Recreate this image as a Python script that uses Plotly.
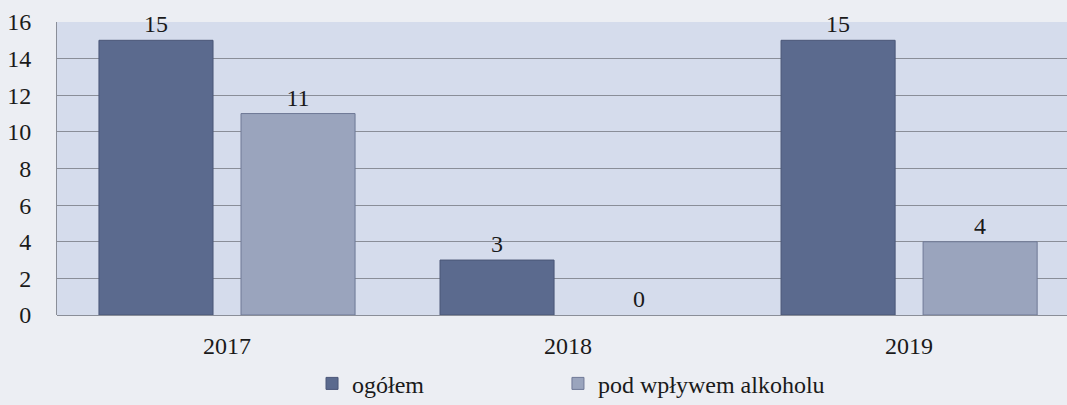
import plotly.graph_objects as go

years = ["2017", "2018", "2019"]
ogolem = [15, 3, 15]
alkohol = [11, 0, 4]
series_names = ["ogółem", "pod wpływem alkoholu"]
y_ticks = [0, 2, 4, 6, 8, 10, 12, 14, 16]

FONT = "Liberation Serif"
dark = "#5b6a8e"
light = "#9aa4bd"
TXT = "#1a1a1a"

fig = go.Figure()
fig.add_trace(go.Bar(
    x=years, y=ogolem, name=series_names[0], legend="legend",
    marker=dict(color=dark, line=dict(color="#4a5677", width=[1 if v else 0 for v in ogolem])),
    text=[str(v) for v in ogolem], textposition="outside",
    textfont=dict(family=FONT, size=24, color=TXT), cliponaxis=False,
))
fig.add_trace(go.Bar(
    x=years, y=alkohol, name=series_names[1], legend="legend2",
    marker=dict(color=light, line=dict(color="#6e7896", width=[1 if v else 0 for v in alkohol])),
    text=[str(v) for v in alkohol], textposition="outside",
    textfont=dict(family=FONT, size=24, color=TXT), cliponaxis=False,
))

leg_common = dict(orientation="h", xanchor="left", y=-0.158, yanchor="top",
                  font=dict(family=FONT, size=24, color=TXT),
                  bgcolor="rgba(0,0,0,0)", itemwidth=30)

fig.update_layout(
    width=1067, height=405,
    margin=dict(l=57, r=0, t=22, b=90, autoexpand=False),
    paper_bgcolor="#eceef3",
    plot_bgcolor="#d5dcec",
    barmode="group", bargap=0.167, bargroupgap=0.197,
    font=dict(family=FONT, size=24, color=TXT),
    showlegend=True,
    legend=dict(x=0.2525, **leg_common),
    legend2=dict(x=0.496, **leg_common),
)
fig.update_xaxes(range=[-0.4985, 2.463], showgrid=False, showline=False,
                 ticks="", ticklabelstandoff=14,
                 tickfont=dict(family=FONT, size=24, color=TXT))
fig.update_yaxes(range=[0, 16], tickvals=y_ticks, showgrid=True,
                 gridcolor="#8a8e98", gridwidth=1, zeroline=True,
                 zerolinecolor="#8a8e98", zerolinewidth=1,
                 showline=True, linecolor="#8a8e98", linewidth=1,
                 ticks="", ticklabelstandoff=20,
                 tickfont=dict(family=FONT, size=24, color=TXT))

fig.write_html("out.html", config={"displayModeBar": False},
               post_script="document.body.style.margin='0';document.body.style.background='#eceef3';")
